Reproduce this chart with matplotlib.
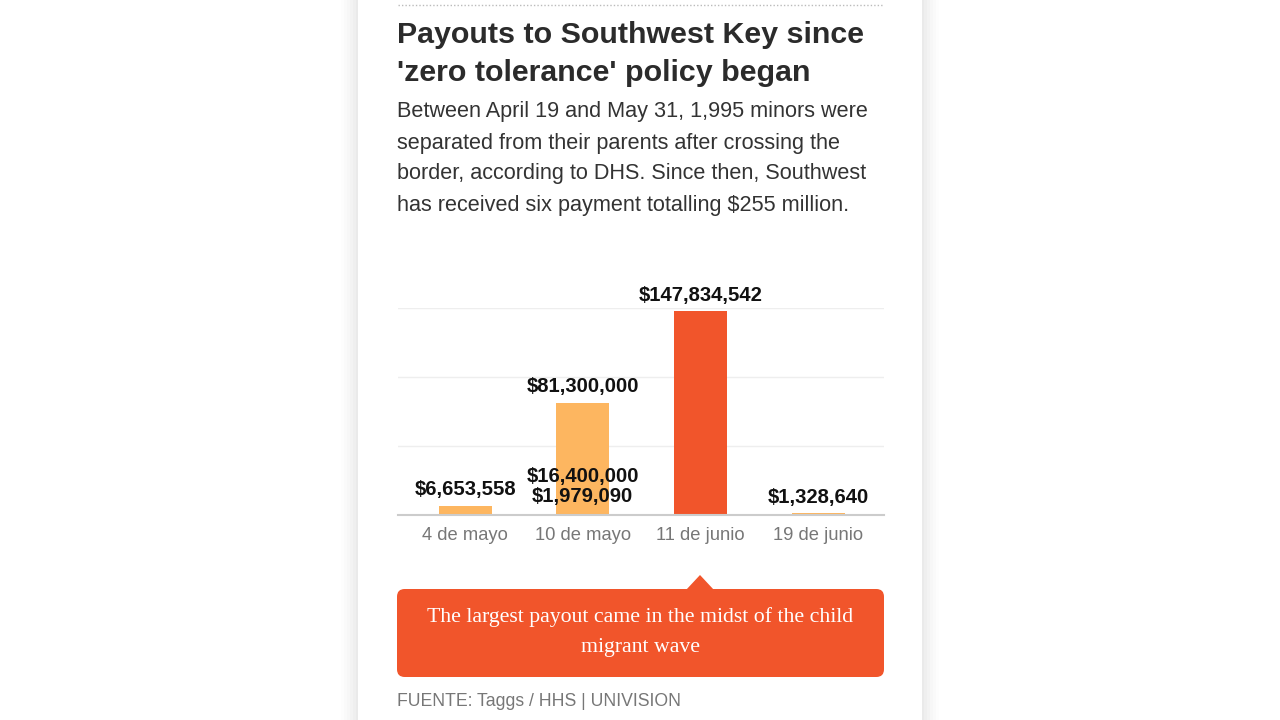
import matplotlib
matplotlib.use("Agg")
import matplotlib.pyplot as plt
from matplotlib.patches import FancyBboxPatch, Polygon, Rectangle
from matplotlib.lines import Line2D

# ---- data ----
categories = ["4 de mayo", "10 de mayo", "11 de junio", "19 de junio"]
# payments: (category index, amount)
payment_cat = [0, 1, 1, 1, 2, 3]
payment_val = [6653558, 81300000, 16400000, 1979090, 147834542, 1328640]
payment_lbl = ["$6,653,558", "$81,300,000", "$16,400,000", "$1,979,090",
               "$147,834,542", "$1,328,640"]
highlight = [False, False, False, False, True, False]
y_ticks = [0, 50e6, 100e6, 150e6]

title = "Payouts to Southwest Key since\n'zero tolerance' policy began"
subtitle_lines = ["Between April 19 and May 31, 1,995 minors were",
                  "separated from their parents after crossing the",
                  "border, according to DHS. Since then, Southwest",
                  "has received six payment totalling $255 million."]
callout = "The largest payout came in the midst of the child\nmigrant wave"
source = "FUENTE: Taggs / HHS | UNIVISION"

LIGHT = "#FDB660"
DARK = "#F1552B"
W, H = 1280, 720

fig = plt.figure(figsize=(12.8, 7.2), dpi=100)
fig.patch.set_facecolor("white")

def fx(x):
    return x / W

def fy(y):
    return 1 - y / H

# card shadow
for i, a in enumerate([0.018, 0.016, 0.014, 0.012, 0.010, 0.008]):
    d = 2 + i * 3
    fig.patches.append(Rectangle((fx(358 - d), 0), fx(564 + 2 * d), 1,
                                 transform=fig.transFigure, facecolor="black",
                                 alpha=a, edgecolor="none", zorder=0))
fig.patches.append(Rectangle((fx(358), 0), fx(564), 1, transform=fig.transFigure,
                             facecolor="white", edgecolor="none", zorder=0.5))
# dotted top line
fig.lines.append(Line2D([fx(398), fx(884)], [fy(5), fy(5)], transform=fig.transFigure,
                        color="#bbbbbb", linestyle=(0, (1, 1.5)), linewidth=1.0, zorder=1))

sans = ["Liberation Sans", "DejaVu Sans"]
serif = ["Liberation Serif", "DejaVu Serif"]

fig.text(fx(397), fy(35), title.split("\n")[0], family=sans, fontsize=21.9,
         fontweight="bold", color="#2b2b2b", va="center", ha="left", zorder=2)
fig.text(fx(397), fy(73), title.split("\n")[1], family=sans, fontsize=21.9,
         fontweight="bold", color="#2b2b2b", va="center", ha="left", zorder=2)
for i, line in enumerate(subtitle_lines):
    fig.text(fx(397), fy(112 + 31 * i), line, family=sans, fontsize=15.6,
             color="#333333", va="center", ha="left", zorder=2)

# chart axes
ax = fig.add_axes([fx(398), fy(515), fx(884 - 398), (515 - 308) / H])
ax.set_facecolor("none")
ax.set_zorder(3)
ax.set_xlim(-0.57, 3.56)
ax.set_ylim(0, 150e6)
for t in y_ticks[1:]:
    ax.axhline(t, color="#eeeeee", linewidth=1.0, zorder=0)
ax.axhline(0, color="#cccccc", linewidth=1.5, zorder=3, clip_on=False)

for c, v, lbl, hl in zip(payment_cat, payment_val, payment_lbl, highlight):
    ax.bar(c, v, width=0.45, color=DARK if hl else LIGHT, zorder=2)
    ax.annotate(lbl, (c, v), xytext=(0, 11.5), textcoords="offset points",
                ha="center", va="center", family=sans, fontsize=14.6,
                fontweight="bold", color="#111111", zorder=4, annotation_clip=False)

ax.set_xticks(range(len(categories)))
ax.set_xticklabels(categories, family=sans, fontsize=13.2, color="#777777")
ax.tick_params(axis="x", length=0, pad=9)
ax.set_yticks([])
for s in ax.spines.values():
    s.set_visible(False)

# callout box
fig.patches.append(FancyBboxPatch((fx(397), fy(677)), fx(884 - 397), (677 - 589) / H,
                                  boxstyle="round,pad=0,rounding_size=0.006",
                                  transform=fig.transFigure, facecolor=DARK,
                                  edgecolor="none", zorder=2, mutation_aspect=W / H))
fig.patches.append(Polygon([(fx(686), fy(590)), (fx(700), fy(575)), (fx(714), fy(590))],
                           closed=True, transform=fig.transFigure, facecolor=DARK,
                           edgecolor="none", zorder=2))
fig.text(fx(640.5), fy(632), callout, family=serif, fontsize=15.7, color="white",
         ha="center", va="center", linespacing=1.8, zorder=3)

fig.text(fx(397), fy(701), source, family=sans, fontsize=12.7, color="#777777",
         ha="left", va="center", zorder=2)

fig.savefig("out.png", dpi=100, facecolor="white")
